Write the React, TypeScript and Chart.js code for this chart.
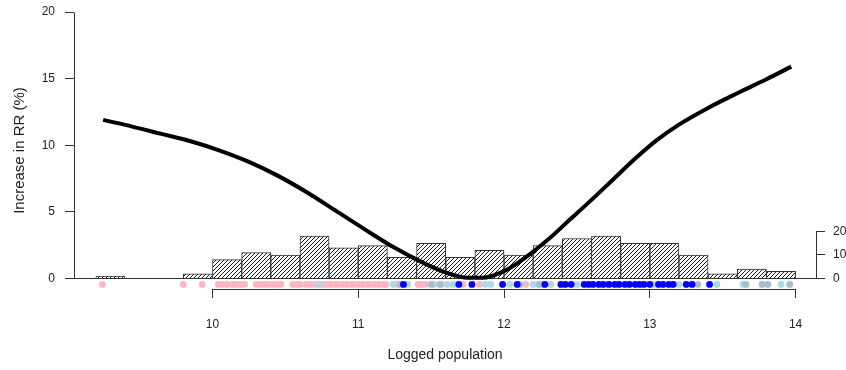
import React, { useEffect, useRef } from 'react';
import { Chart, registerables } from 'chart.js';

Chart.register(...registerables);

// ---- data ----
const xTicks = [10, 11, 12, 13, 14];
const yTicks = [0, 5, 10, 15, 20];
const countTicks = [0, 10, 20];

// histogram of logged population (bin width 0.2), bin centres and counts
const histBinCenters = [9.3, 9.9, 10.1, 10.3, 10.5, 10.7, 10.9, 11.1, 11.3, 11.5, 11.7, 11.9, 12.1, 12.3, 12.5, 12.7, 12.9, 13.1, 13.3, 13.5, 13.7, 13.9];
const histCounts = [1, 2, 8, 11, 10, 18, 13, 14, 9, 15, 9, 12, 10, 14, 17, 18, 15, 15, 10, 2, 4, 3];

// fitted curve: increase in RR (%)
const curveX = [9.25, 9.45, 9.65, 9.85, 10.05, 10.25, 10.45, 10.65, 10.85, 11.05, 11.25, 11.45, 11.6, 11.75, 11.85, 12.0, 12.15, 12.3, 12.45, 12.6, 12.75, 12.9, 13.05, 13.2, 13.4, 13.6, 13.8, 13.97];
const curveY = [11.9, 11.4, 10.85, 10.3, 9.6, 8.75, 7.7, 6.45, 5.05, 3.65, 2.3, 1.15, 0.45, 0.05, 0.05, 0.55, 1.6, 2.9, 4.4, 5.9, 7.45, 9.0, 10.4, 11.55, 12.8, 13.9, 14.95, 15.9];

// rug of observations (logged population) by group
const rugLevel = -0.45;
const pinkX = [9.245, 9.8, 9.93, 10.04, 10.07, 10.1, 10.14, 10.16, 10.19, 10.22, 10.3, 10.33, 10.36, 10.38, 10.41, 10.44, 10.47, 10.55, 10.58, 10.6, 10.64, 10.67, 10.7, 10.73, 10.75, 10.78, 10.81, 10.84, 10.86, 10.89, 10.92, 10.95, 10.97, 11.0, 11.03, 11.06, 11.08, 11.11, 11.14, 11.17, 11.19, 11.27, 11.41, 11.43, 11.46, 11.57, 11.72, 11.83, 12.15, 12.26];
const lightBlueX = [10.73, 11.24, 11.34, 11.52, 11.61, 11.65, 11.87, 11.91, 12.04, 12.2, 12.32, 12.5, 12.7, 13.03, 13.2, 13.46, 13.64, 13.9];
const greyBlueX = [11.29, 11.5, 11.56, 12.11, 12.24, 13.33, 13.66, 13.77, 13.81, 13.96];
const blueX = [11.31, 11.69, 11.78, 11.99, 12.09, 12.28, 12.39, 12.42, 12.46, 12.55, 12.58, 12.61, 12.65, 12.68, 12.72, 12.76, 12.79, 12.83, 12.86, 12.9, 12.93, 12.96, 13.0, 13.06, 13.09, 13.13, 13.16, 13.25, 13.29, 13.41];

// ---- styles ----
const AXIS = '#333333';
const TEXT = '#222222';
const FONT = '"Liberation Sans", Arial, Helvetica, sans-serif';

function makeHatch(): CanvasPattern | string {
  const s = 4;
  const c = document.createElement('canvas');
  c.width = s;
  c.height = s;
  const g = c.getContext('2d');
  if (!g) return '#999';
  g.fillStyle = '#ffffff';
  g.fillRect(0, 0, s, s);
  g.strokeStyle = '#1c1c1c';
  g.lineWidth = 1;
  g.beginPath();
  g.moveTo(0, s);
  g.lineTo(s, 0);
  g.moveTo(-1, 1);
  g.lineTo(1, -1);
  g.moveTo(s - 1, s + 1);
  g.lineTo(s + 1, s - 1);
  g.stroke();
  const p = g.createPattern(c, 'repeat');
  return p || '#999';
}

const align = (v: number) => Math.round(v - 0.5) + 0.5;

const rAxisLines = {
  id: 'rAxisLines',
  afterDraw(chart: any) {
    const { ctx, chartArea, scales } = chart;
    const x = scales.x;
    const y = scales.y;
    const y2 = scales.y2;
    ctx.save();
    ctx.strokeStyle = AXIS;
    ctx.lineWidth = 1;
    ctx.beginPath();
    const lx = align(chartArea.left);
    ctx.moveTo(lx, align(y.getPixelForValue(yTicks[0])));
    ctx.lineTo(lx, align(y.getPixelForValue(yTicks[yTicks.length - 1])));
    const by = align(chartArea.bottom);
    ctx.moveTo(align(x.getPixelForValue(xTicks[0])), by);
    ctx.lineTo(align(x.getPixelForValue(xTicks[xTicks.length - 1])), by);
    const rx = align(chartArea.right);
    ctx.moveTo(rx, align(y2.getPixelForValue(countTicks[0])));
    ctx.lineTo(rx, align(y2.getPixelForValue(countTicks[countTicks.length - 1])));
    ctx.stroke();
    ctx.restore();
  },
};

export default function App() {
  const ref = useRef<HTMLCanvasElement | null>(null);

  useEffect(() => {
    const canvas = ref.current;
    if (!canvas) return;
    Chart.defaults.font.family = FONT;
    const hatch = makeHatch();
    const rug = (xs: number[]) => xs.map((v) => ({ x: v, y: rugLevel }));

    const chart = new Chart(canvas, {
      type: 'bar',
      data: {
        datasets: [
          {
            type: 'line',
            label: 'curve',
            data: curveX.map((v, i) => ({ x: v, y: curveY[i] })),
            xAxisID: 'x',
            yAxisID: 'y',
            borderColor: '#000000',
            borderWidth: 4,
            pointRadius: 0,
            fill: false,
            cubicInterpolationMode: 'monotone',
            order: 0,
          } as any,
          {
            type: 'scatter',
            label: 'blue',
            data: rug(blueX),
            xAxisID: 'x',
            yAxisID: 'y',
            backgroundColor: '#0000ff',
            borderWidth: 0,
            pointRadius: 3.4,
            order: 1,
          } as any,
          {
            type: 'scatter',
            label: 'greyblue',
            data: rug(greyBlueX),
            xAxisID: 'x',
            yAxisID: 'y',
            backgroundColor: '#a2bfcb',
            borderWidth: 0,
            pointRadius: 3.4,
            order: 2,
          } as any,
          {
            type: 'scatter',
            label: 'lightblue',
            data: rug(lightBlueX),
            xAxisID: 'x',
            yAxisID: 'y',
            backgroundColor: '#add8e6',
            borderWidth: 0,
            pointRadius: 3.4,
            order: 3,
          } as any,
          {
            type: 'scatter',
            label: 'pink',
            data: rug(pinkX),
            xAxisID: 'x',
            yAxisID: 'y',
            backgroundColor: '#ffb6c1',
            borderWidth: 0,
            pointRadius: 3.4,
            order: 4,
          } as any,
          {
            type: 'bar',
            label: 'hist',
            data: histBinCenters.map((v, i) => ({ x: v, y: histCounts[i] })),
            xAxisID: 'x',
            yAxisID: 'y2',
            backgroundColor: hatch,
            borderColor: '#333333',
            borderWidth: 1,
            barPercentage: 1,
            categoryPercentage: 1,
            order: 9,
          } as any,
        ],
      },
      options: {
        animation: false,
        responsive: false,
        devicePixelRatio: 1,
        layout: { padding: { top: 12, left: 0, right: 0, bottom: 0 } },
        plugins: { legend: { display: false }, tooltip: { enabled: false } },
        scales: {
          x: {
            type: 'linear',
            position: 'bottom',
            min: 9.05,
            max: 14.14,
            offset: false,
            grid: { offset: false, drawOnChartArea: false, tickLength: 9, color: AXIS, tickColor: AXIS },
            border: { display: false },
            ticks: { padding: 19, color: TEXT, font: { size: 12 }, callback: (v: any) => String(v) },
            afterBuildTicks: (s: any) => {
              s.ticks = xTicks.map((v) => ({ value: v }));
            },
            afterFit: (s: any) => {
              s.height = 81;
              s.paddingLeft = 0;
              s.paddingRight = 0;
            },
            title: { display: true, text: 'Logged population', color: TEXT, font: { size: 14 }, padding: { top: 0, bottom: 6 } },
          },
          y: {
            type: 'linear',
            position: 'left',
            min: -0.79,
            max: 20,
            grid: {
              drawOnChartArea: true,
              tickLength: 9,
              tickColor: AXIS,
              color: (ctx: any) => (ctx.tick && ctx.tick.value === 0 ? AXIS : 'rgba(0,0,0,0)'),
            },
            border: { display: false },
            ticks: { padding: 10, color: TEXT, font: { size: 12 }, callback: (v: any) => String(v) },
            afterBuildTicks: (s: any) => {
              s.ticks = yTicks.map((v) => ({ value: v }));
            },
            afterFit: (s: any) => {
              s.width = 74;
              s.paddingTop = 0;
              s.paddingBottom = 0;
            },
            title: { display: true, text: 'Increase in RR (%)', color: TEXT, font: { size: 15 }, padding: { top: 11, bottom: 0 } },
          },
          y2: {
            type: 'linear',
            position: 'right',
            min: -4.47,
            max: 113.4,
            grid: { drawOnChartArea: false, tickLength: 9, color: AXIS, tickColor: AXIS },
            border: { display: false },
            ticks: { padding: 8, color: TEXT, font: { size: 12 }, callback: (v: any) => String(v) },
            afterBuildTicks: (s: any) => {
              s.ticks = countTicks.map((v) => ({ value: v }));
            },
            afterFit: (s: any) => {
              s.width = 30;
              s.paddingTop = 0;
              s.paddingBottom = 0;
            },
          },
        },
      } as any,
      plugins: [rAxisLines],
    });

    return () => chart.destroy();
  }, []);

  return (
    <div style={{ position: 'absolute', left: 0, top: 0, width: 846, height: 370, background: '#ffffff' }}>
      <canvas ref={ref} width={846} height={370} style={{ display: 'block' }} />
    </div>
  );
}
